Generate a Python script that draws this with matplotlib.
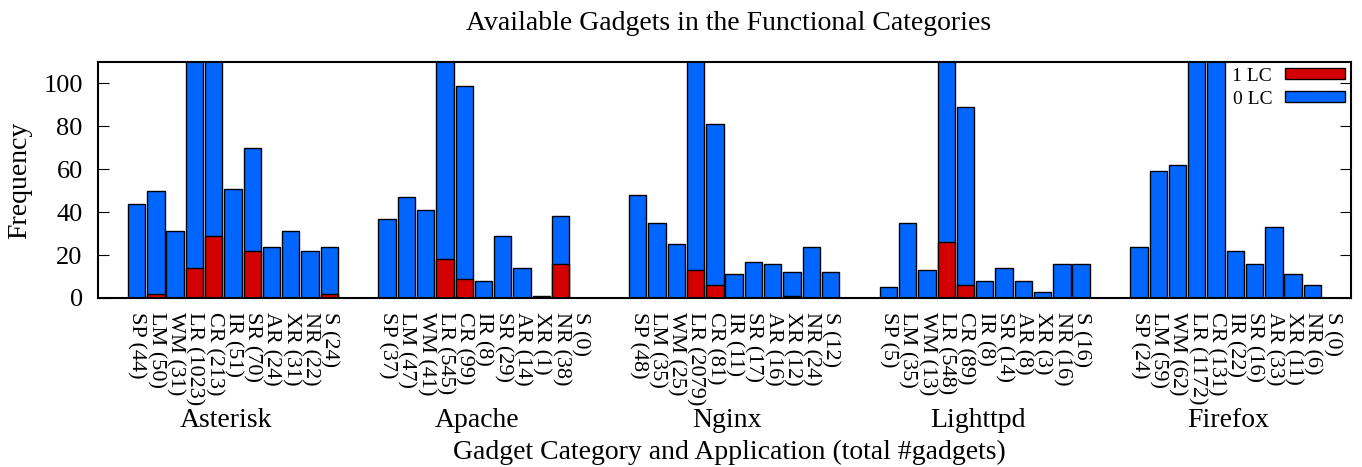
import matplotlib.pyplot as plt
import numpy as np

plt.rcParams['font.family'] = ['Liberation Serif', 'DejaVu Serif']

apps = ["Asterisk", "Apache", "Nginx", "Lighttpd", "Firefox"]
categories = ["SP", "LM", "WM", "LR", "CR", "IR", "SR", "AR", "XR", "NR", "S"]

# total gadgets per category (0 LC bar height = total)
totals = {
    "Asterisk": [44, 50, 31, 1023, 213, 51, 70, 24, 31, 22, 24],
    "Apache":   [37, 47, 41, 545, 99, 8, 29, 14, 1, 38, 0],
    "Nginx":    [48, 35, 25, 2079, 81, 11, 17, 16, 12, 24, 12],
    "Lighttpd": [5, 35, 13, 548, 89, 8, 14, 8, 3, 16, 16],
    "Firefox":  [24, 59, 62, 1172, 131, 22, 16, 33, 11, 6, 0],
}
# gadgets with one loop/call (1 LC)
one_lc = {
    "Asterisk": [0, 2, 0, 14, 29, 0, 22, 0, 0, 0, 2],
    "Apache":   [0, 0, 0, 18, 9, 0, 0, 0, 0, 16, 0],
    "Nginx":    [0, 0, 0, 13, 6, 0, 0, 0, 1, 0, 0],
    "Lighttpd": [0, 0, 0, 26, 6, 0, 0, 0, 0, 0, 0],
    "Firefox":  [0, 0, 0, 0, 0, 0, 0, 0, 0, 0, 0],
}

blue = "#0066ff"
red = "#d40000"
slot = len(categories) + 2

fig = plt.figure(figsize=(13.62, 4.67), dpi=100)
ax = fig.add_axes([98 / 1362, 169 / 467, 1253 / 1362, 236 / 467])

xs, labels = [], []
for g, app in enumerate(apps):
    x = g * slot + np.arange(len(categories))
    ax.bar(x, totals[app], width=0.9, color=blue, edgecolor="black", linewidth=1,
           label="0 LC" if g == 0 else None)
    ax.bar(x, one_lc[app], width=0.9, color=red, edgecolor="black", linewidth=1,
           label="1 LC" if g == 0 else None)
    xs.extend(x)
    labels.extend(f"{c} ({t})" for c, t in zip(categories, totals[app]))
    ax.text(g * slot + 4.65, -0.52, app, transform=ax.get_xaxis_transform(),
            ha="center", va="center", fontsize=20)

ax.set_xlim(-2, slot * len(apps) - 2)
ax.set_ylim(0, 110)
ax.set_yticks(range(0, 101, 20))
ax.set_xticks(xs)
ax.set_xticklabels(labels, rotation=-90, va="top", ha="center", fontsize=16)
ax.tick_params(axis="x", length=0, pad=10)
ax.tick_params(axis="y", direction="in", length=8, right=True, labelsize=19, pad=11)
for s in ax.spines.values():
    s.set_linewidth(1.5)

ax.set_ylabel("Frequency", fontsize=20, labelpad=8)
fig.text(729 / 1362, 1 - 23 / 467, "Available Gadgets in the Functional Categories",
         ha="center", va="center", fontsize=20)
fig.text(729 / 1362, 1 - 452 / 467, "Gadget Category and Application (total #gadgets)",
         ha="center", va="center", fontsize=20)

h, l = ax.get_legend_handles_labels()
ax.legend(h[::-1], l[::-1], loc="upper right", frameon=False, markerfirst=False,
          fontsize=14, handlelength=3.1, handleheight=0.5, labelspacing=0.3,
          handletextpad=0.65, borderaxespad=0.15, borderpad=0.15)

fig.savefig("out.png", dpi=100)
